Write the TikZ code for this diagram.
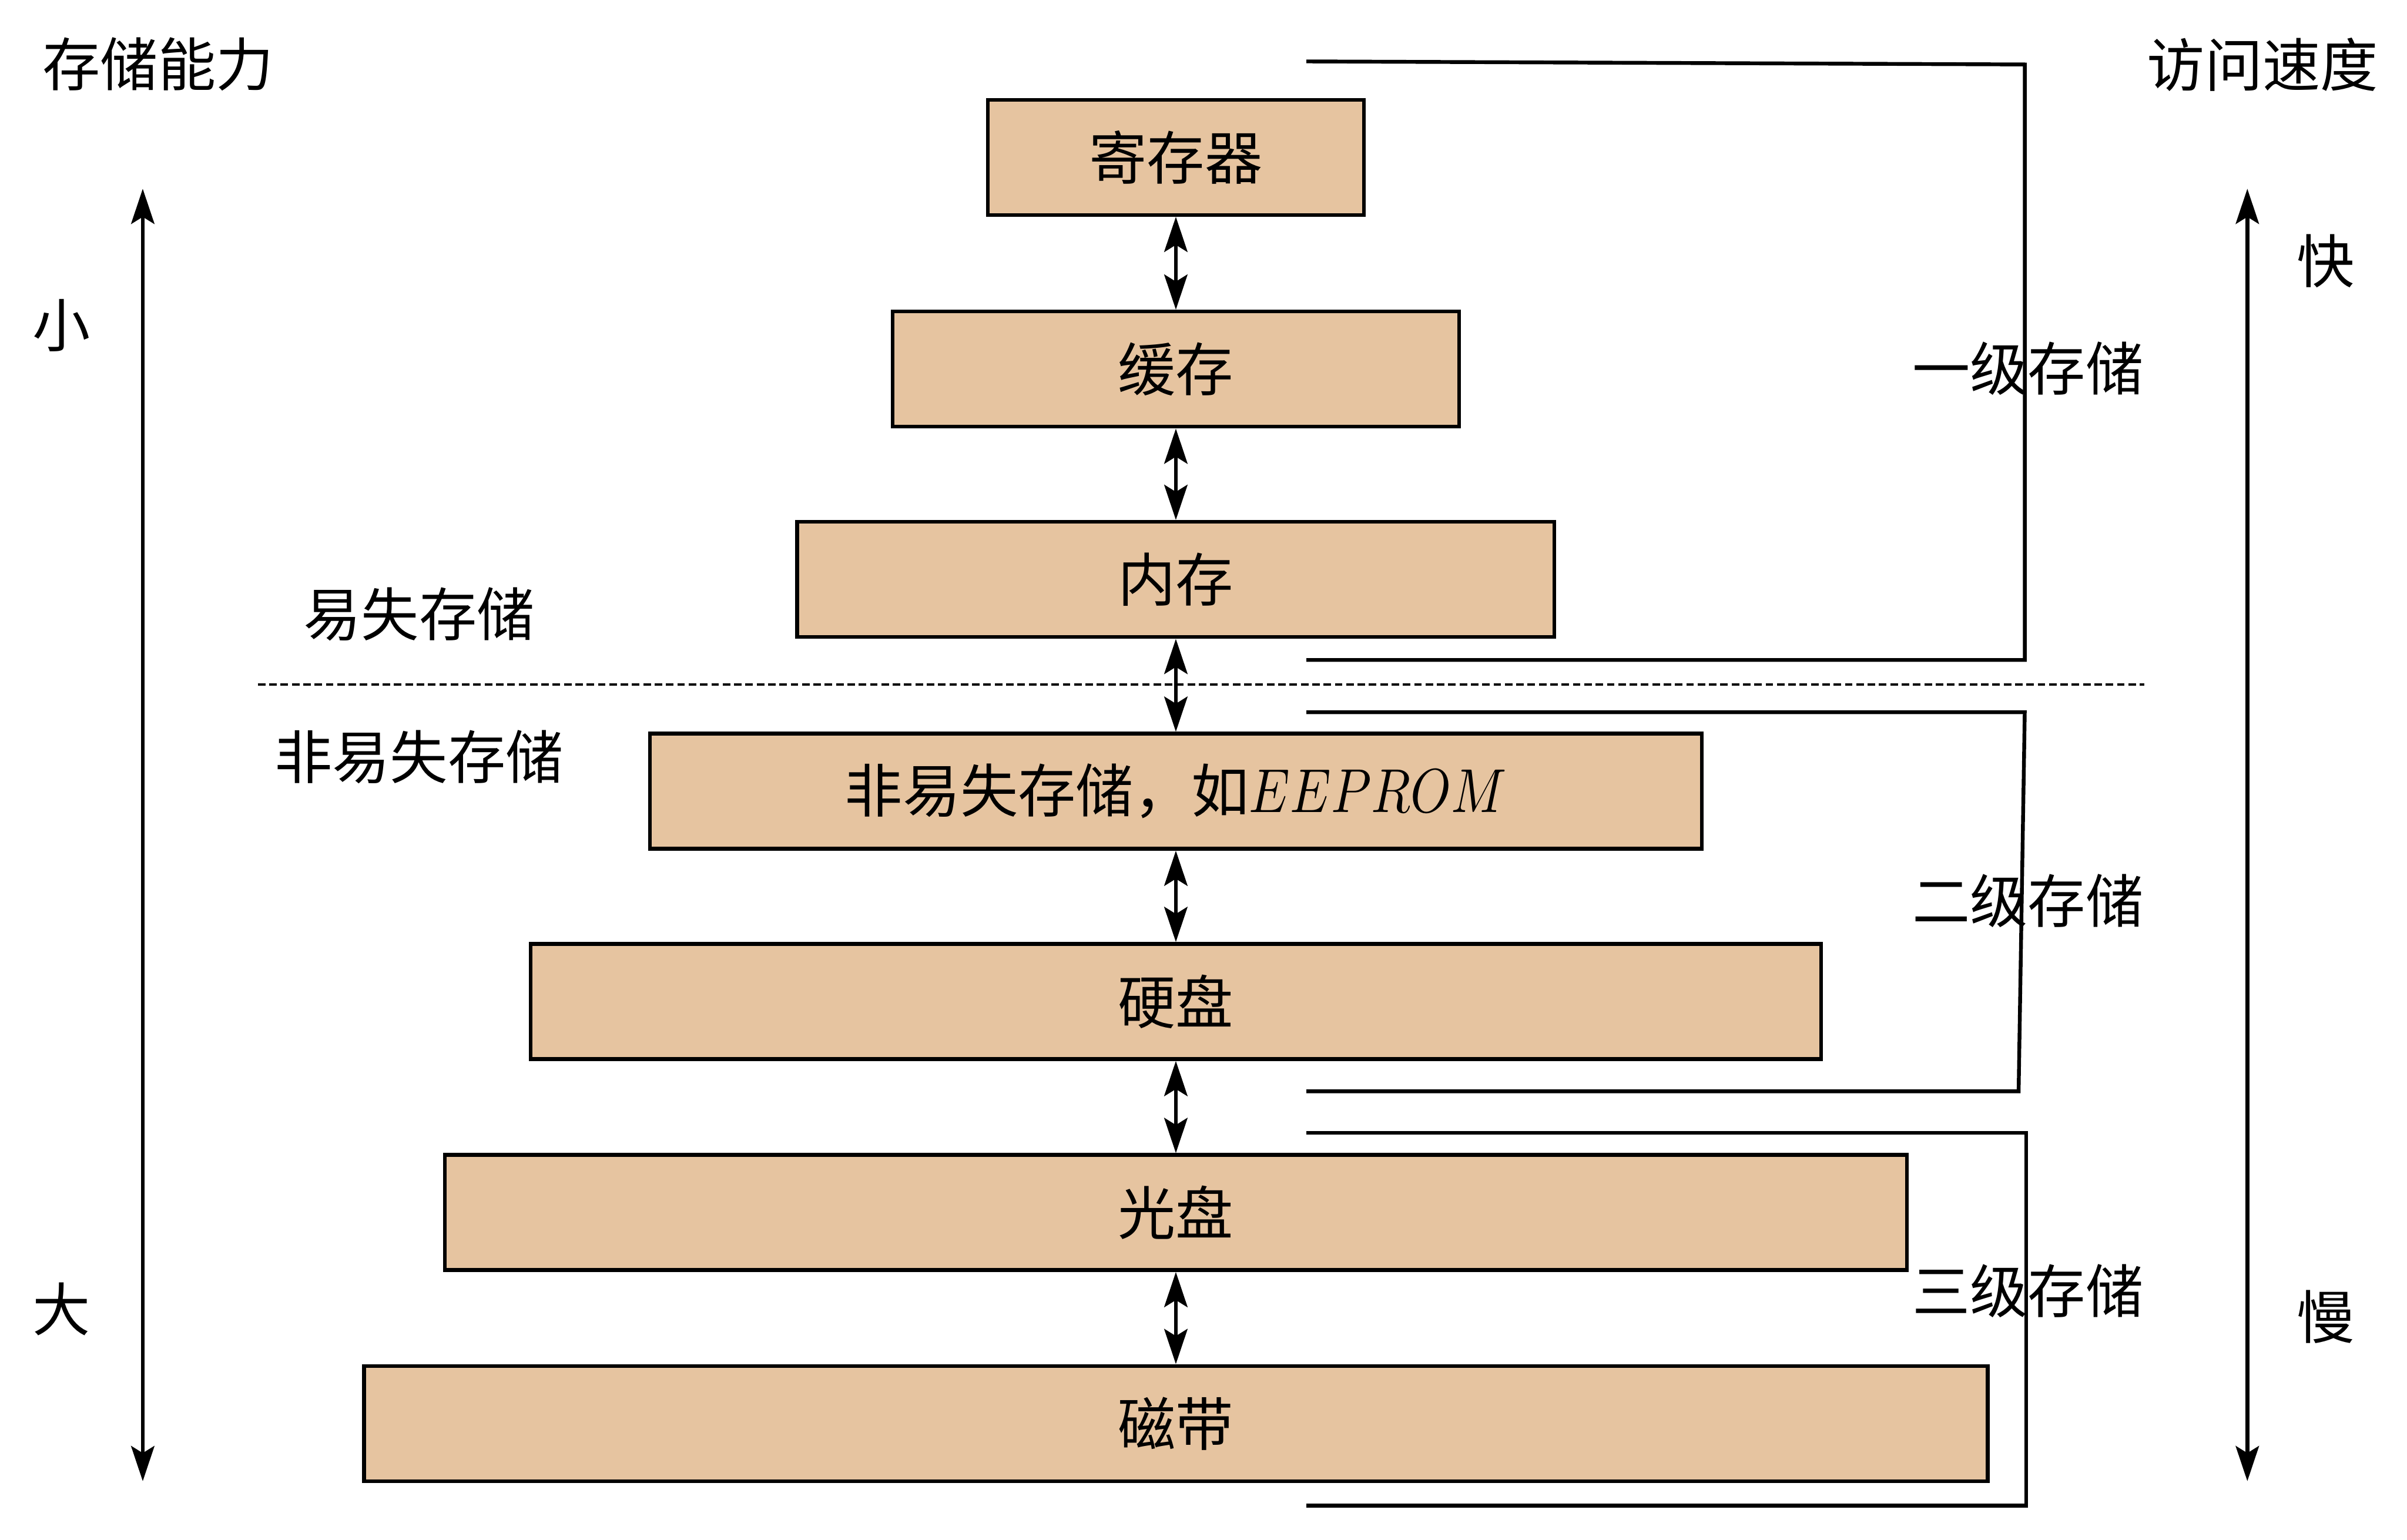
\documentclass[tikz,border=0pt]{standalone}
\usepackage{fontspec}
\usepackage{graphicx}
\setmainfont{Noto Sans CJK SC}
\usetikzlibrary{arrows.meta}
\definecolor{boxtan}{RGB}{230,196,160}
\begin{document}
\begin{tikzpicture}[x=0.01cm, y=-0.01cm, line width=0.7pt,
  >={Stealth[length=6.5pt, width=4.3pt, inset=1.3pt]},
  font=\fontsize{10.7pt}{12pt}\selectfont,
  levelbox/.style={draw, fill=boxtan, minimum height=0.75cm, inner sep=0pt},
  bracket/.style={line join=miter}]
  \useasboundingbox (0,0) rectangle (1568,1003);

  % storage hierarchy
  \node[levelbox, minimum width=2.45cm] (reg)   at (766,102.5) {寄存器};
  \node[levelbox, minimum width=3.69cm] (cache) at (766,240.5) {缓存};
  \node[levelbox, minimum width=4.93cm] (mem)   at (766,377.5) {内存};
  \node[levelbox, minimum width=6.85cm] (rom)   at (766,515.5)
    {非易失存储，如\scalebox{0.87}[1.05]{$EEPROM$}};
  \node[levelbox, minimum width=8.40cm] (disk)  at (766,652.5) {硬盘};
  \node[levelbox, minimum width=9.52cm] (cd)    at (766,790)   {光盘};
  \node[levelbox, minimum width=10.57cm] (tape) at (766,927.5) {磁带};

  \draw[<->] (reg.south) -- (cache.north);
  \draw[<->] (cache.south) -- (mem.north);
  \draw[<->] (mem.south) -- (rom.north);
  \draw[<->] (rom.south) -- (disk.north);
  \draw[<->] (disk.south) -- (cd.north);
  \draw[<->] (cd.south) -- (tape.north);

  % volatile / non-volatile split
  \draw[line width=0.35pt, dash pattern=on 1.4pt off 0.7pt] (168,446) -- (1397,446);
  \node (vol)    at (273,400) {易失存储};
  \node (nonvol) at (273,493) {非易失存储};

  % levels
  \draw[bracket] (851,40) -- (1319,42) -- (1319,430) -- (851,430);
  \draw[bracket] (851,464) -- (1319,464) -- (1315,711) -- (851,711);
  \draw[bracket] (851,738) -- (1320,738) -- (1320,981) -- (851,981);
  \node (lv1) at (1321,240) {一级存储};
  \node (lv2) at (1321,587) {二级存储};
  \node (lv3) at (1321,841) {三级存储};

  % side axes
  \coordinate (capT) at (93,123);
  \coordinate (capB) at (93,965);
  \coordinate (spdT) at (1464,123);
  \coordinate (spdB) at (1464,965);
  \draw[<->] (capT) -- (capB);
  \draw[<->] (spdT) -- (spdB);
  \node (cap)   at (103,42)   {存储能力};
  \node (small) at (40,212)   {小};
  \node (large) at (40,853)   {大};
  \node (spd)   at (1474,42)  {访问速度};
  \node (fast)  at (1515,170) {快};
  \node (slow)  at (1515,858) {慢};
\end{tikzpicture}
\end{document}
